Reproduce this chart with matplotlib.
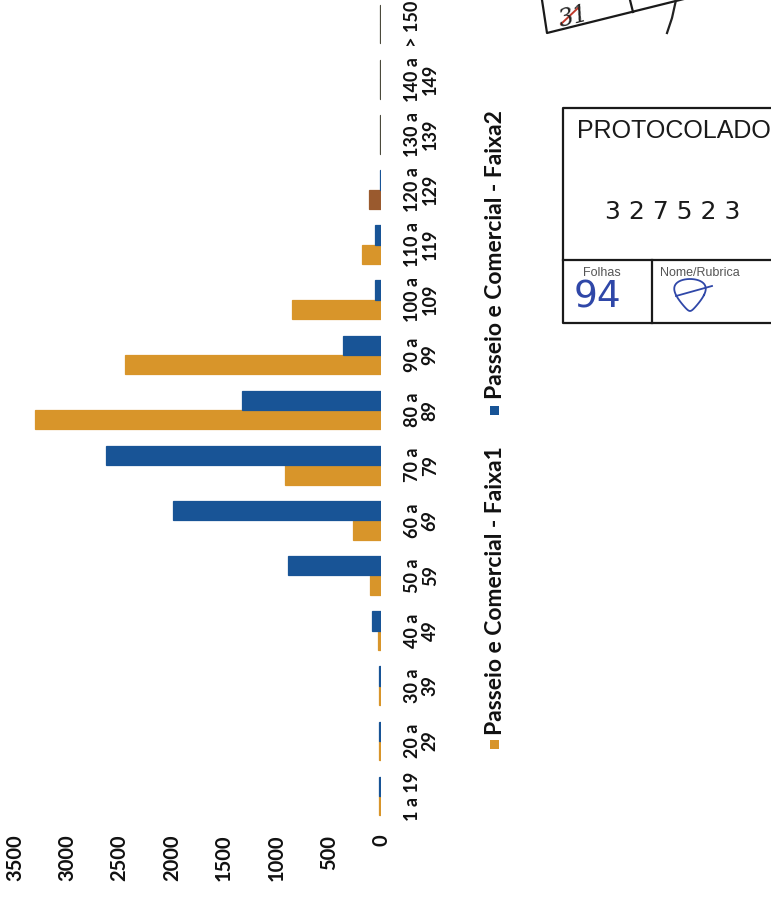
import matplotlib.pyplot as plt
import numpy as np
from matplotlib.patches import Rectangle
from matplotlib.transforms import blended_transform_factory

# ---------------- data ----------------
categories = ['1 a 19', '20 a\n29', '30 a\n39', '40 a\n49', '50 a\n59', '60 a\n69',
              '70 a\n79', '80 a\n89', '90 a\n99', '100 a\n109', '110 a\n119',
              '120 a\n129', '130 a\n139', '140 a\n149', '> 150']
faixa1 = [15, 15, 20, 30, 105, 268, 918, 3308, 2447, 851, 182, 115, 12, 12, 12]
faixa2 = [15, 15, 20, 86, 889, 1989, 2629, 1329, 363, 57, 57, 10, 12, 12, 12]
value_ticks = [0, 500, 1000, 1500, 2000, 2500, 3000, 3500]
series_names = ['Passeio e Comercial - Faixa1', 'Passeio e Comercial - Faixa2']

W, H = 771, 900
ORANGE = '#D8952A'
BLUE = '#185496'


def P(x, y):
    # pixel (from top-left) -> figure fraction
    return x / W, 1 - y / H


fig = plt.figure(figsize=(W / 100, H / 100), dpi=100, facecolor='white')

# the chart is printed rotated 90 degrees: values run leftward, categories upward
ax = fig.add_axes([15 / W, 76.4 / H, 366 / W, 823.2 / H])
ax.set_xlim(3500, 0)
ax.set_ylim(-0.5, 14.43)

idx = np.arange(len(categories))
c1 = [ORANGE] * len(idx)
c2 = [BLUE] * len(idx)
c1[11] = '#9A5A2E'          # stained bar in the scan
for i in (12, 13, 14):
    c1[i] = c2[i] = '#4B4A3C'

ax.barh(idx - 0.175, faixa1, height=0.35, color=c1, edgecolor=c1, linewidth=0.9)
ax.barh(idx + 0.175, faixa2, height=0.35, color=c2, edgecolor=c2, linewidth=0.9)

for s in ax.spines.values():
    s.set_visible(False)
ax.set_yticks([])
ax.set_xticks(value_ticks)
ax.set_xticklabels([str(v) for v in value_ticks], rotation=90, va='top',
                   fontfamily='Lato', fontweight='bold', fontsize=14.5, color='#111111')
ax.tick_params(axis='x', length=0, pad=8)

# category labels to the right of the bars
tr = blended_transform_factory(fig.transFigure, ax.transData)
for i, lab in zip(idx, categories):
    ax.text(404 / W, i, lab, transform=tr, rotation=90, ha='left', va='center',
            multialignment='center', linespacing=1.05,
            fontfamily='Lato', fontweight='bold', fontsize=13, color='#111111')

# legend (drawn by hand so it can be rotated)
for name, col, ytxt, ysq in [(series_names[0], ORANGE, 735, 744),
                             (series_names[1], BLUE, 399, 410)]:
    fig.add_artist(Rectangle(P(490, ysq + 5), 9 / W, 9 / H, transform=fig.transFigure,
                             facecolor=col, edgecolor='none'))
    fig.text(*P(495, ytxt), name, rotation=90, ha='center', va='bottom',
             fontfamily='Lato', fontweight='bold', fontsize=16.5, color='#111111')

# ---------------- protocol stamp ----------------
def line(xs, ys, **kw):
    pts = [P(x, y) for x, y in zip(xs, ys)]
    fig.add_artist(plt.Line2D([p[0] for p in pts], [p[1] for p in pts],
                              transform=fig.transFigure, **kw))

k = dict(color='#1a1a1a', linewidth=1.6)
line([775, 563, 563, 775], [108, 108, 323, 323], **k)
line([563, 775], [260, 260], **k)
line([652, 652], [260, 323], **k)
fig.text(*P(577, 131), 'PROTOCOLADO', ha='left', va='center',
         fontfamily='Liberation Sans', fontsize=18, color='#1a1a1a')
fig.text(*P(605, 212), '3 2 7 5 2 3', ha='left', va='center',
         fontfamily='Liberation Sans Narrow', fontsize=18, color='#1a1a1a')
fig.text(*P(583, 273), 'Folhas', ha='left', va='center',
         fontfamily='Liberation Sans', fontsize=9, color='#555555')
fig.text(*P(660, 273), 'Nome/Rubrica', ha='left', va='center',
         fontfamily='Liberation Sans', fontsize=9, color='#555555')
fig.text(*P(574, 298), '94', ha='left', va='center',
         fontfamily='Liberation Sans Narrow', fontsize=27, color='#2F47A8')
# rubric scribble
t = np.linspace(0, 2 * np.pi, 60)
line(690 + 14 * np.cos(t) - 4 * np.sin(2 * t), 295 + 16 * np.sin(t),
     color='#2F47A8', linewidth=1.3)
line([676, 712], [296, 286], color='#2F47A8', linewidth=1.3)

# top box with handwritten sheet number
line([542, 547, 700], [0, 33, -5], **k)
line([633, 630], [12, 0], **k)
fig.text(*P(574, 17), '31', rotation=14, ha='center', va='center',
         fontfamily='DejaVu Serif', fontstyle='italic', fontsize=17, color='#222222')
line([561, 578], [24, 8], color='#C0392B', linewidth=1.4)
line([676, 672, 667], [0, 18, 33], color='#222222', linewidth=1.6)

fig.savefig('out.png', dpi=100, facecolor='white')
